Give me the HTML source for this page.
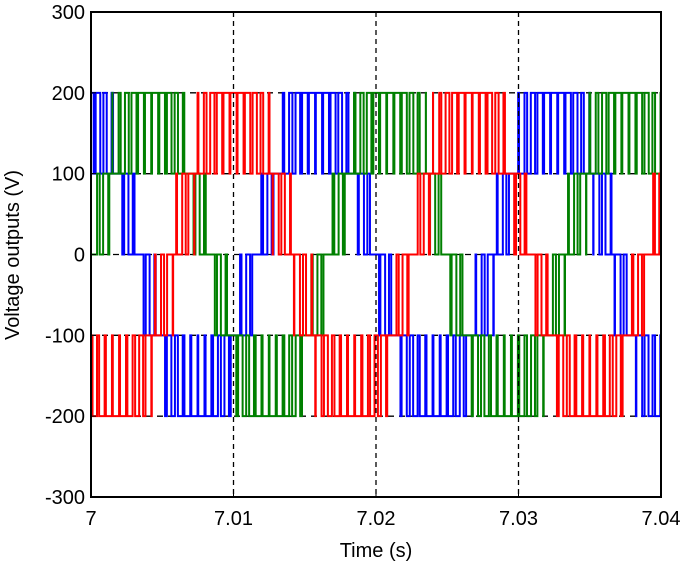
<!DOCTYPE html>
<html><head><meta charset="utf-8"><style>
html,body{margin:0;padding:0;background:#fff}
svg{display:block}
text{font-family:"Liberation Sans",Arial,sans-serif;fill:#000}
</style></head><body>
<svg id="chart" width="685" height="566" viewBox="0 0 685 566" xmlns="http://www.w3.org/2000/svg">
<g id="grid"></g>
<g id="series"></g>
<g id="axes"></g>
</svg>
<script>
const xTicks=[7,7.01,7.02,7.03,7.04];
const xTickLabels=["7","7.01","7.02","7.03","7.04"];
const yTicks=[300,200,100,0,-100,-200,-300];
const yTickLabels=["300","200","100","0","-100","-200","-300"];
const refLevels=[200,100,0,-100,-200];
const vGrid=[7.01,7.02,7.03];
const sampleStep=[1/1200];
// modulating references sampled every 1/1200 s from 7.000 s
const blueRef=[181,154,112,59,0,-59,-112,-154,-181,-190,-181,-154,-112,-59,0,59,112,154,181,
 190,181,154,112,59,0,-59,-112,-154,-181,-190,-181,-154,-112,-59,0,59,112,154,181,
 190,181,154,112,59,0,-59,-112,-154,-181];
const redRef=[-154,-181,-190,-181,-154,-112,-59,0,59,112,154,181,
 190,181,154,112,59,0,-59,-112,-154,-181,-190,-181,-154,-112,-59,0,59,112,154,181,
 190,181,154,112,59,0,-59,-112,-154,-181,-190,-181,-154,-112,-59,0,59];
const greenRef=[0,59,112,154,181,
 190,181,154,112,59,0,-59,-112,-154,-181,-190,-181,-154,-112,-59,0,59,112,154,181,
 190,181,154,112,59,0,-59,-112,-154,-181,-190,-181,-154,-112,-59,0,59,112,154,181,
 190,181,154,112];
const carrierHz=[2000];
const seriesNames=["blue-phase","green-phase","red-phase"];
const seriesColors=["#0000ff","#008000","#ff0000"];

const L=91,R=661,T=12,B=497;
const X=t=>L+(t-7)/(0.04)*(R-L);
const Y=v=>T+(300-v)/600*(B-T);
const NS="http://www.w3.org/2000/svg";
function mk(tag,attrs,parent){const e=document.createElementNS(NS,tag);for(const k in attrs)e.setAttribute(k,attrs[k]);parent.appendChild(e);return e;}
const grid=document.getElementById('grid'),ser=document.getElementById('series'),axes=document.getElementById('axes');

refLevels.forEach(v=>{
  const l=mk('line',{x1:L,x2:R,y1:Y(v),y2:Y(v),stroke:'#000','stroke-width':1.3,'stroke-dasharray':'6,5'},grid);
  
  
});

function refAt(arr,t){const p=(t-7)/sampleStep[0];let i=Math.floor(p);if(i>=arr.length-1)i=arr.length-2;if(i<0)i=0;const f=p-i;return arr[i]+(arr[i+1]-arr[i])*f;}
function carrier(t){const ph=((t-7)*carrierHz[0])%1;return ph<0.5?ph*2:2-ph*2;}
function level(arr,t){const r=refAt(arr,t)/100;const b=Math.floor(r);const fr=r-b;let v=100*(b+(fr>carrier(t)?1:0));return Math.max(-200,Math.min(200,v));}

[blueRef,greenRef,redRef].forEach((arr,si)=>{
  const N=12000;let d='';let prev=null;
  for(let i=0;i<=N;i++){const t=7+0.04*i/N;const v=level(arr,t);const x=X(t).toFixed(2);
    if(prev===null){d+='M'+x+' '+Y(v).toFixed(2);} else if(v!==prev){d+='L'+x+' '+Y(prev).toFixed(2)+'L'+x+' '+Y(v).toFixed(2);}
    prev=v;}
  d+='L'+X(7.04).toFixed(2)+' '+Y(prev).toFixed(2);
  const p=mk('path',{d:d,fill:'none',stroke:seriesColors[si],'stroke-width':2},ser);
  
  
});

vGrid.forEach(t=>{
  const l=mk('line',{x1:X(t),x2:X(t),y1:T,y2:B,stroke:'#000','stroke-width':1.3,'stroke-dasharray':'5,4'},axes);
  
  
});
const fr=mk('rect',{x:L,y:T,width:R-L,height:B-T,fill:'none',stroke:'#000','stroke-width':2},axes);


xTicks.forEach((t,i)=>{
  mk('line',{x1:X(t),x2:X(t),y1:B,y2:B-5,stroke:'#000','stroke-width':1},axes);
  const tx=mk('text',{x:X(t),y:B+28,'text-anchor':'middle','font-size':20},axes);
  tx.textContent=xTickLabels[i];
  
  
});
yTicks.forEach((v,i)=>{
  mk('line',{x1:L,x2:L+5,y1:Y(v),y2:Y(v),stroke:'#000','stroke-width':1},axes);
  const tx=mk('text',{x:L-6,y:Y(v)+7,'text-anchor':'end','font-size':20},axes);
  tx.textContent=yTickLabels[i];
  
  
});
const xt=mk('text',{x:376,y:557,'text-anchor':'middle','font-size':20},axes);
xt.textContent='Time (s)';


const yt=mk('text',{x:0,y:0,'text-anchor':'middle','font-size':20,transform:'translate(19,255) rotate(-90)'},axes);
yt.textContent='Voltage outputs (V)';


</script>
</body></html>
